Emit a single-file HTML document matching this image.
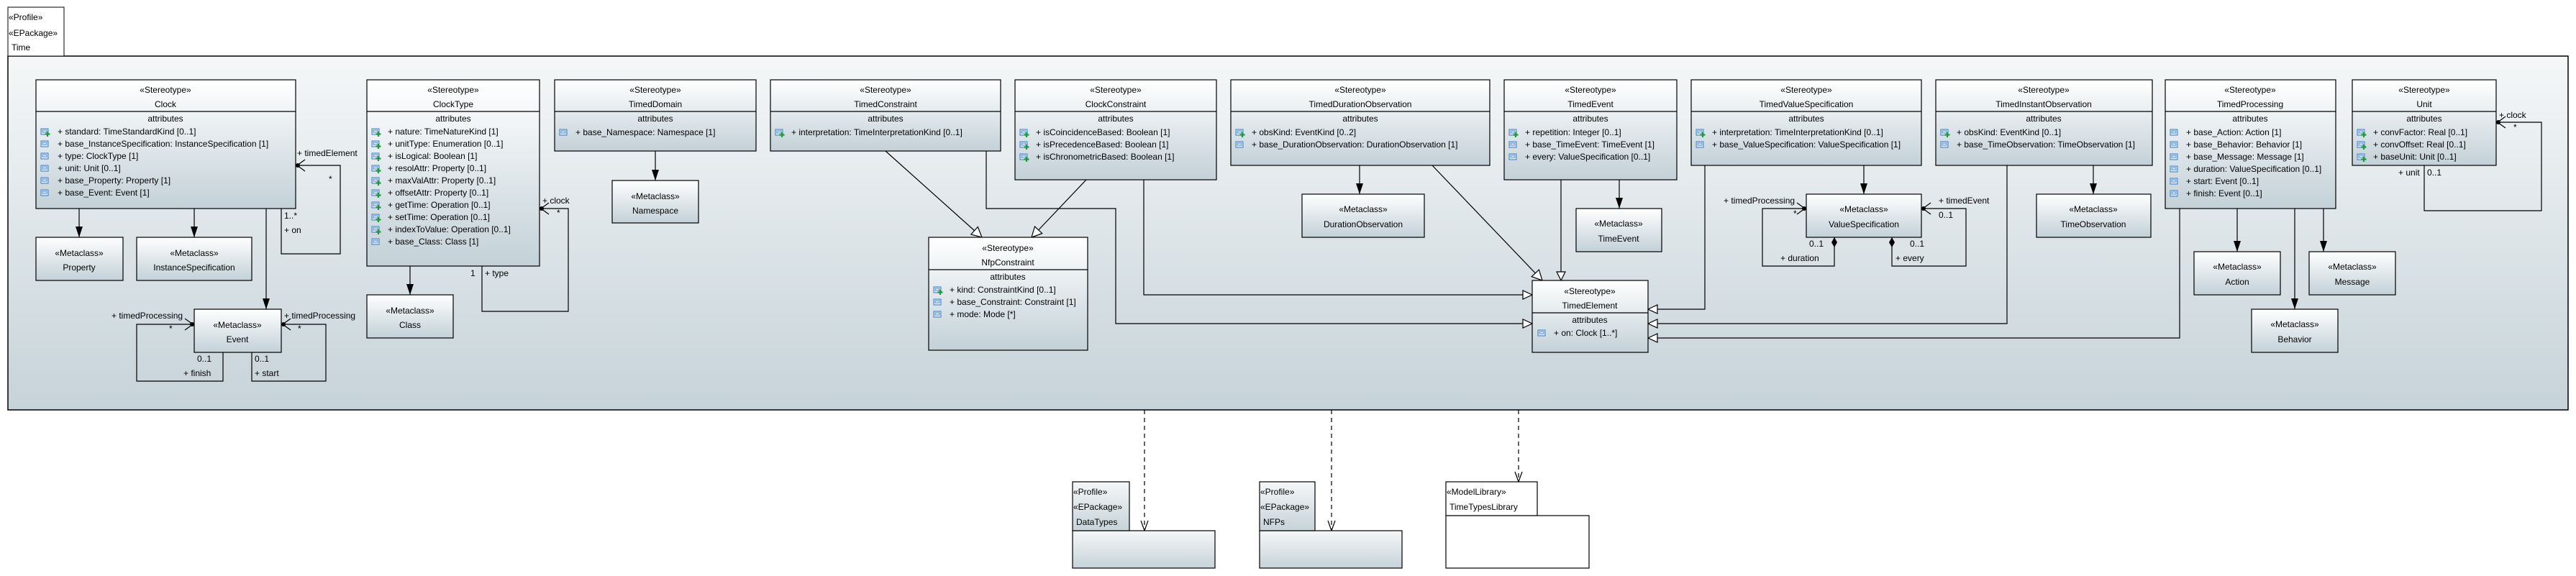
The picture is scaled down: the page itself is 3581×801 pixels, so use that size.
<!DOCTYPE html>
<html><head><meta charset="utf-8"><style>
html,body{margin:0;padding:0;background:#fff;}
svg{display:block;}
text{font-family:"Liberation Sans",sans-serif;font-size:12px;fill:#000;}
</style></head><body>
<svg width="3581" height="801" viewBox="0 0 3581 801" xmlns="http://www.w3.org/2000/svg">
<defs>
<linearGradient id="g" x1="0" y1="0" x2="0" y2="1"><stop offset="0" stop-color="#ffffff"/><stop offset="1" stop-color="#c3d1d8"/></linearGradient>
<linearGradient id="pk" x1="0" y1="0" x2="0" y2="1"><stop offset="0" stop-color="#f5f7f8"/><stop offset="1" stop-color="#c6d3d9"/></linearGradient>
<g id="ip"><rect x="0" y="-4" width="10" height="8" fill="#dde9f6" stroke="#3a7cc4" stroke-width="1"/><rect x="2" y="-2" width="6" height="3" fill="none" stroke="#3a7cc4" stroke-width="0.8"/></g>
<g id="ipp"><use href="#ip"/><path d="M9,0v7M5.5,3.5h7" stroke="#1a9a3a" stroke-width="2.2"/></g>
</defs>

<!-- main package -->
<rect x="11" y="78" width="3559" height="492" fill="url(#pk)" stroke="#000" stroke-width="1.5"/>
<rect x="11" y="10" width="78" height="68" fill="#fff" stroke="#000" stroke-width="1"/>
<text x="12" y="28">«Profile»</text><text x="12" y="50">«EPackage»</text><text x="16" y="70">Time</text>

<g fill="none" stroke="#000" stroke-width="1.2">
<path d="M110,290V330M270,290V330M370,290V430M570,370V410M911,210V251M1890,230V270M2251,250V290M2591,230V270M2910,230V270M3110,290V350M3230,290V350M3190,290V430"/>
<path d="M1231,210L1365,330M1510,250L1434,330M1371,210V290H1551V450H2130M1590,250V410H2130M1991,230L2144,390M2170,250V390M2370,230V430H2291M2790,230V450H2291M3030,290V470H2291"/>
<path d="M411,230H473V353H391V290M670,370V433H790V290H750M310,490V530H190V451H270M350,490V530H453V451H391M2550,330V370H2450V290H2511M2630,330V370H2733V290H2671M3370,230V293H3533V170H3470"/>
<path d="M1591,570V738M1851,570V738M2111,570V670" stroke-dasharray="6,5"/>
<path d="M1586,724L1591,738L1596,724M1846,724L1851,738L1856,724M2106,656L2111,670L2116,656"/>
<path d="M424,222L413,230L424,238M763,282L752,290L763,298M257,443L268,451L257,459M404,443L393,451L404,459M2498,282L2509,290L2498,298M2684,282L2673,290L2684,298M3483,162L3472,170L3483,178"/>
</g>
<g fill="#000"><circle cx="414" cy="230" r="3"/><circle cx="753" cy="290" r="3"/><circle cx="267" cy="451" r="3"/><circle cx="394" cy="451" r="3"/><circle cx="2508" cy="290" r="3"/><circle cx="2674" cy="290" r="3"/><circle cx="3473" cy="170" r="3"/>
<path d="M2550,330l4,7l-4,7l-4,-7z M2630,330l4,7l-4,7l-4,-7z"/>
<path d="M105,315L110,330L115,315z M265,315L270,330L275,315z M365,415L370,430L375,415z M565,395L570,410L575,395z M906,236L911,251L916,236z M1885,255L1890,270L1895,255z M2246,275L2251,290L2256,275z M2586,255L2591,270L2596,255z M2905,255L2910,270L2915,255z M3105,335L3110,350L3115,335z M3225,335L3230,350L3235,335z M3185,415L3190,430L3195,415z"/>
</g>
<g fill="#fff" stroke="#000" stroke-width="1.2">
<path d="M1365,330L1349.9,325.9L1359.3,315.5z"/>
<path d="M1434,330L1448.7,324.6L1438.5,315z"/>
<path d="M2144,390L2129.2,384.7L2139.4,375.1z"/>
<path d="M2130,410l-13,-6v12z M2130,450l-13,-6v12z M2170,390l-6,-12h12z M2291,430l13,-6v12z M2291,450l13,-6v12z M2291,470l13,-6v12z"/>
</g>

<g stroke="#000" stroke-width="1.2">
<rect x="50" y="111" width="361" height="179" fill="url(#g)"/><path d="M50,155H411"/>
<rect x="510" y="111" width="240" height="259" fill="url(#g)"/><path d="M510,155H750"/>
<rect x="771" y="111" width="280" height="99" fill="url(#g)"/><path d="M771,155H1051"/>
<rect x="1071" y="111" width="320" height="99" fill="url(#g)"/><path d="M1071,155H1391"/>
<rect x="1411" y="111" width="280" height="139" fill="url(#g)"/><path d="M1411,155H1691"/>
<rect x="1711" y="111" width="360" height="119" fill="url(#g)"/><path d="M1711,155H2071"/>
<rect x="2091" y="111" width="240" height="139" fill="url(#g)"/><path d="M2091,155H2331"/>
<rect x="2351" y="111" width="320" height="119" fill="url(#g)"/><path d="M2351,155H2671"/>
<rect x="2691" y="111" width="301" height="119" fill="url(#g)"/><path d="M2691,155H2992"/>
<rect x="3010" y="111" width="237" height="179" fill="url(#g)"/><path d="M3010,155H3247"/>
<rect x="3270" y="111" width="200" height="119" fill="url(#g)"/><path d="M3270,155H3470"/>
<rect x="1291" y="330" width="221" height="157" fill="url(#g)"/><path d="M1291,375H1512"/>
<rect x="2130" y="390" width="161" height="100" fill="url(#g)"/><path d="M2130,435H2291"/>
<rect x="50" y="330" width="121" height="60" fill="url(#g)"/>
<rect x="190" y="330" width="160" height="60" fill="url(#g)"/>
<rect x="270" y="430" width="121" height="60" fill="url(#g)"/>
<rect x="510" y="410" width="120" height="60" fill="url(#g)"/>
<rect x="851" y="251" width="120" height="59" fill="url(#g)"/>
<rect x="1810" y="270" width="170" height="60" fill="url(#g)"/>
<rect x="2191" y="290" width="119" height="60" fill="url(#g)"/>
<rect x="2511" y="270" width="160" height="60" fill="url(#g)"/>
<rect x="2831" y="270" width="159" height="60" fill="url(#g)"/>
<rect x="3050" y="350" width="120" height="60" fill="url(#g)"/>
<rect x="3210" y="350" width="120" height="60" fill="url(#g)"/>
<rect x="3130" y="430" width="120" height="60" fill="url(#g)"/>
<rect x="1491" y="738" width="198" height="52" fill="url(#pk)"/><rect x="1491" y="670" width="79" height="68" fill="url(#pk)"/>
<rect x="1751" y="738" width="198" height="52" fill="url(#pk)"/><rect x="1751" y="670" width="77" height="68" fill="url(#pk)"/>
<rect x="2010" y="717" width="199" height="73" fill="#fff"/><rect x="2010" y="670" width="127" height="47" fill="#fff"/>
</g>

<g text-anchor="middle">
<text x="230" y="129">«Stereotype»</text><text x="230" y="149">Clock</text><text x="230" y="169">attributes</text>
<text x="630" y="129">«Stereotype»</text><text x="630" y="149">ClockType</text><text x="630" y="169">attributes</text>
<text x="911" y="129">«Stereotype»</text><text x="911" y="149">TimedDomain</text><text x="911" y="169">attributes</text>
<text x="1231" y="129">«Stereotype»</text><text x="1231" y="149">TimedConstraint</text><text x="1231" y="169">attributes</text>
<text x="1551" y="129">«Stereotype»</text><text x="1551" y="149">ClockConstraint</text><text x="1551" y="169">attributes</text>
<text x="1891" y="129">«Stereotype»</text><text x="1891" y="149">TimedDurationObservation</text><text x="1891" y="169">attributes</text>
<text x="2211" y="129">«Stereotype»</text><text x="2211" y="149">TimedEvent</text><text x="2211" y="169">attributes</text>
<text x="2511" y="129">«Stereotype»</text><text x="2511" y="149">TimedValueSpecification</text><text x="2511" y="169">attributes</text>
<text x="2841" y="129">«Stereotype»</text><text x="2841" y="149">TimedInstantObservation</text><text x="2841" y="169">attributes</text>
<text x="3128" y="129">«Stereotype»</text><text x="3128" y="149">TimedProcessing</text><text x="3128" y="169">attributes</text>
<text x="3370" y="129">«Stereotype»</text><text x="3370" y="149">Unit</text><text x="3370" y="169">attributes</text>
<text x="1401" y="349">«Stereotype»</text><text x="1401" y="369">NfpConstraint</text><text x="1401" y="389">attributes</text>
<text x="2210" y="409">«Stereotype»</text><text x="2210" y="429">TimedElement</text><text x="2210" y="449">attributes</text>
<text x="110" y="356">«Metaclass»</text><text x="110" y="376">Property</text>
<text x="270" y="356">«Metaclass»</text><text x="270" y="376">InstanceSpecification</text>
<text x="330" y="456">«Metaclass»</text><text x="330" y="476">Event</text>
<text x="570" y="436">«Metaclass»</text><text x="570" y="456">Class</text>
<text x="911" y="277">«Metaclass»</text><text x="911" y="297">Namespace</text>
<text x="1895" y="295">«Metaclass»</text><text x="1895" y="316">DurationObservation</text>
<text x="2250" y="315">«Metaclass»</text><text x="2250" y="336">TimeEvent</text>
<text x="2591" y="295">«Metaclass»</text><text x="2591" y="316">ValueSpecification</text>
<text x="2910" y="295">«Metaclass»</text><text x="2910" y="316">TimeObservation</text>
<text x="3110" y="375">«Metaclass»</text><text x="3110" y="396">Action</text>
<text x="3270" y="375">«Metaclass»</text><text x="3270" y="396">Message</text>
<text x="3190" y="455">«Metaclass»</text><text x="3190" y="476">Behavior</text>
</g>

<use href="#ipp" x="57" y="183"/><text x="80" y="187">+ standard: TimeStandardKind [0..1]</text>
<use href="#ip" x="57" y="200"/><text x="80" y="204">+ base_InstanceSpecification: InstanceSpecification [1]</text>
<use href="#ip" x="57" y="217"/><text x="80" y="221">+ type: ClockType [1]</text>
<use href="#ip" x="57" y="234"/><text x="80" y="238">+ unit: Unit [0..1]</text>
<use href="#ip" x="57" y="251"/><text x="80" y="255">+ base_Property: Property [1]</text>
<use href="#ip" x="57" y="268"/><text x="80" y="272">+ base_Event: Event [1]</text>

<use href="#ipp" x="517" y="183"/><text x="539" y="187">+ nature: TimeNatureKind [1]</text>
<use href="#ipp" x="517" y="200"/><text x="539" y="204">+ unitType: Enumeration [0..1]</text>
<use href="#ipp" x="517" y="217"/><text x="539" y="221">+ isLogical: Boolean [1]</text>
<use href="#ipp" x="517" y="234"/><text x="539" y="238">+ resolAttr: Property [0..1]</text>
<use href="#ipp" x="517" y="251"/><text x="539" y="255">+ maxValAttr: Property [0..1]</text>
<use href="#ipp" x="517" y="268"/><text x="539" y="272">+ offsetAttr: Property [0..1]</text>
<use href="#ipp" x="517" y="285"/><text x="539" y="289">+ getTime: Operation [0..1]</text>
<use href="#ipp" x="517" y="302"/><text x="539" y="306">+ setTime: Operation [0..1]</text>
<use href="#ipp" x="517" y="319"/><text x="539" y="323">+ indexToValue: Operation [0..1]</text>
<use href="#ip" x="517" y="336"/><text x="539" y="340">+ base_Class: Class [1]</text>

<use href="#ip" x="778" y="184"/><text x="800" y="188">+ base_Namespace: Namespace [1]</text>
<use href="#ipp" x="1078" y="184"/><text x="1100" y="188">+ interpretation: TimeInterpretationKind [0..1]</text>

<use href="#ipp" x="1418" y="184"/><text x="1440" y="188">+ isCoincidenceBased: Boolean [1]</text>
<use href="#ipp" x="1418" y="201"/><text x="1440" y="205">+ isPrecedenceBased: Boolean [1]</text>
<use href="#ipp" x="1418" y="218"/><text x="1440" y="222">+ isChronometricBased: Boolean [1]</text>

<use href="#ipp" x="1718" y="184"/><text x="1740" y="188">+ obsKind: EventKind [0..2]</text>
<use href="#ip" x="1718" y="201"/><text x="1740" y="205">+ base_DurationObservation: DurationObservation [1]</text>

<use href="#ipp" x="2098" y="184"/><text x="2120" y="188">+ repetition: Integer [0..1]</text>
<use href="#ip" x="2098" y="201"/><text x="2120" y="205">+ base_TimeEvent: TimeEvent [1]</text>
<use href="#ip" x="2098" y="218"/><text x="2120" y="222">+ every: ValueSpecification [0..1]</text>

<use href="#ipp" x="2358" y="184"/><text x="2380" y="188">+ interpretation: TimeInterpretationKind [0..1]</text>
<use href="#ip" x="2358" y="201"/><text x="2380" y="205">+ base_ValueSpecification: ValueSpecification [1]</text>

<use href="#ipp" x="2698" y="184"/><text x="2720" y="188">+ obsKind: EventKind [0..1]</text>
<use href="#ip" x="2698" y="201"/><text x="2720" y="205">+ base_TimeObservation: TimeObservation [1]</text>

<use href="#ip" x="3017" y="184"/><text x="3039" y="188">+ base_Action: Action [1]</text>
<use href="#ip" x="3017" y="201"/><text x="3039" y="205">+ base_Behavior: Behavior [1]</text>
<use href="#ip" x="3017" y="218"/><text x="3039" y="222">+ base_Message: Message [1]</text>
<use href="#ip" x="3017" y="235"/><text x="3039" y="239">+ duration: ValueSpecification [0..1]</text>
<use href="#ip" x="3017" y="252"/><text x="3039" y="256">+ start: Event [0..1]</text>
<use href="#ip" x="3017" y="269"/><text x="3039" y="273">+ finish: Event [0..1]</text>

<use href="#ipp" x="3277" y="184"/><text x="3299" y="188">+ convFactor: Real [0..1]</text>
<use href="#ipp" x="3277" y="201"/><text x="3299" y="205">+ convOffset: Real [0..1]</text>
<use href="#ipp" x="3277" y="218"/><text x="3299" y="222">+ baseUnit: Unit [0..1]</text>

<use href="#ipp" x="1298" y="403"/><text x="1320" y="407">+ kind: ConstraintKind [0..1]</text>
<use href="#ip" x="1298" y="420"/><text x="1320" y="424">+ base_Constraint: Constraint [1]</text>
<use href="#ip" x="1298" y="437"/><text x="1320" y="441">+ mode: Mode [*]</text>

<use href="#ip" x="2138" y="463"/><text x="2160" y="467">+ on: Clock [1..*]</text>

<text x="413" y="217">+ timedElement</text><text x="457" y="253">*</text>
<text x="395" y="304">1..*</text><text x="395" y="324">+ on</text>
<text x="654" y="384">1</text><text x="674" y="384">+ type</text>
<text x="754" y="283">+ clock</text><text x="774" y="300">*</text>
<text x="155" y="443">+ timedProcessing</text><text x="235" y="461">*</text>
<text x="274" y="503">0..1</text><text x="255" y="523">+ finish</text>
<text x="395" y="443">+ timedProcessing</text><text x="414" y="461">*</text>
<text x="354" y="503">0..1</text><text x="354" y="523">+ start</text>
<text x="2396" y="283">+ timedProcessing</text><text x="2493" y="301">*</text>
<text x="2515" y="343">0..1</text><text x="2475" y="363">+ duration</text>
<text x="2695" y="283">+ timedEvent</text><text x="2695" y="303">0..1</text>
<text x="2655" y="343">0..1</text><text x="2635" y="363">+ every</text>
<text x="3474" y="164">+ clock</text><text x="3494" y="181">*</text>
<text x="3334" y="244">+ unit</text><text x="3374" y="244">0..1</text>

<text x="1492" y="688">«Profile»</text><text x="1492" y="709">«EPackage»</text><text x="1496" y="730">DataTypes</text>
<text x="1752" y="688">«Profile»</text><text x="1752" y="709">«EPackage»</text><text x="1756" y="730">NFPs</text>
<text x="2011" y="688">«ModelLibrary»</text><text x="2015" y="709">TimeTypesLibrary</text>
</svg>
</body></html>
